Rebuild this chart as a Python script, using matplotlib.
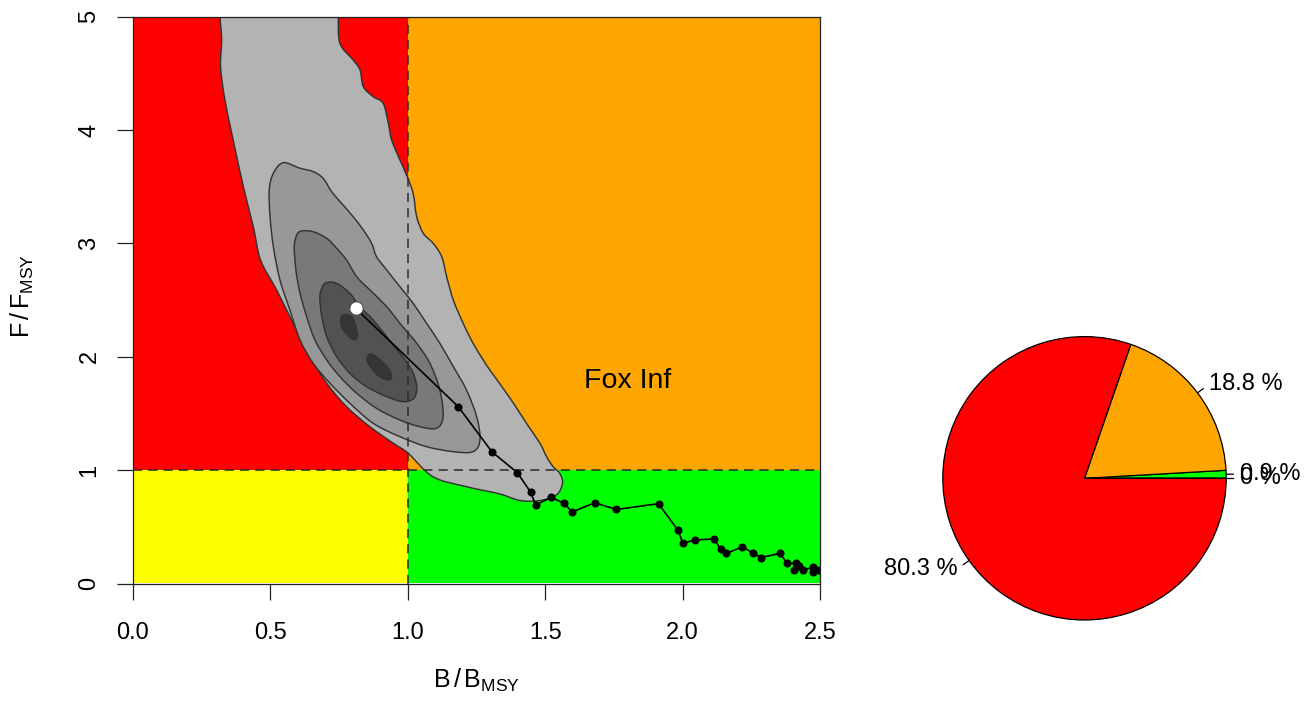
import matplotlib
matplotlib.use("Agg")
import matplotlib.pyplot as plt
from matplotlib.path import Path
from matplotlib.patches import PathPatch
import numpy as np

plt.rcParams['font.family'] = ['Liberation Sans', 'DejaVu Sans']
plt.rcParams['mathtext.fontset'] = 'custom'
plt.rcParams['mathtext.rm'] = 'Liberation Sans'
plt.rcParams['mathtext.it'] = 'Liberation Sans:italic'
plt.rcParams['mathtext.bf'] = 'Liberation Sans:bold'

# ---------------- data ----------------
x_ticks = [0.0, 0.5, 1.0, 1.5, 2.0, 2.5]
y_ticks = [0, 1, 2, 3, 4, 5]
x_tick_labels = ["0.0", "0.5", "1.0", "1.5", "2.0", "2.5"]
y_tick_labels = ["0", "1", "2", "3", "4", "5"]

# trajectory B/Bmsy, F/Fmsy (first year -> last year)
traj_B = [2.492, 2.474, 2.474, 2.438, 2.422, 2.404, 2.410, 2.379, 2.353, 2.284,
          2.257, 2.216, 2.157, 2.138, 2.114, 2.044, 2.001, 1.982, 1.912, 1.759,
          1.680, 1.598, 1.569, 1.521, 1.465, 1.448, 1.399, 1.306, 1.184, 0.811]
traj_F = [0.119, 0.099, 0.143, 0.119, 0.154, 0.116, 0.178, 0.178, 0.266, 0.228,
          0.269, 0.322, 0.265, 0.302, 0.393, 0.384, 0.355, 0.472, 0.704, 0.653,
          0.712, 0.631, 0.707, 0.760, 0.692, 0.803, 0.977, 1.163, 1.560, 2.428]

# density contour outlines (B, F), outermost to innermost
cont1_B = [0.318, 0.318, 0.324, 0.320, 0.336, 0.366, 0.403, 0.439, 0.466, 0.524,
           0.584, 0.645, 0.706, 0.778, 0.863, 0.948, 1.002, 1.092, 1.214, 1.335,
           1.408, 1.481, 1.541, 1.563, 1.553, 1.529, 1.505, 1.481, 1.432, 1.372,
           1.299, 1.275, 1.238, 1.202, 1.166, 1.142, 1.124, 1.093, 1.057, 1.033,
           1.020, 0.996, 0.972, 0.942, 0.930, 0.911, 0.875, 0.839, 0.827, 0.802,
           0.754, 0.748, 0.747]
cont1_F = [5.10, 5.00, 4.795, 4.559, 4.265, 3.912, 3.500, 3.148, 2.850, 2.589,
           2.295, 2.001, 1.766, 1.560, 1.383, 1.237, 1.149, 0.942, 0.854, 0.790,
           0.732, 0.732, 0.781, 0.884, 0.972, 1.030, 1.119, 1.237, 1.413, 1.636,
           1.883, 1.972, 2.119, 2.295, 2.501, 2.706, 2.883, 3.001, 3.089, 3.236,
           3.442, 3.604, 3.736, 3.912, 4.060, 4.236, 4.294, 4.383, 4.530, 4.618,
           4.765, 5.000, 5.10]

cont2_B = [0.548, 0.609, 0.657, 0.693, 0.724, 0.760, 0.802, 0.839, 0.869, 0.887,
           0.924, 0.972, 1.020, 1.069, 1.117, 1.166, 1.214, 1.251, 1.263, 1.238,
           1.166, 1.069, 0.972, 0.875, 0.790, 0.718, 0.657, 0.609, 0.572, 0.536,
           0.512, 0.500, 0.497, 0.512]
cont2_F = [3.712, 3.663, 3.633, 3.574, 3.456, 3.354, 3.236, 3.118, 3.001, 2.883,
           2.766, 2.618, 2.472, 2.295, 2.119, 1.913, 1.707, 1.471, 1.266, 1.163,
           1.163, 1.207, 1.295, 1.413, 1.590, 1.766, 1.942, 2.148, 2.413, 2.677,
           2.971, 3.236, 3.471, 3.619]

cont3_B = [0.615, 0.657, 0.706, 0.742, 0.778, 0.815, 0.863, 0.924, 0.972, 1.033,
           1.081, 1.117, 1.129, 1.105, 1.045, 0.972, 0.887, 0.815, 0.754, 0.706,
           0.663, 0.633, 0.609, 0.594, 0.588, 0.597]
cont3_F = [3.110, 3.103, 3.045, 2.957, 2.854, 2.706, 2.589, 2.442, 2.295, 2.119,
           1.942, 1.707, 1.471, 1.369, 1.383, 1.442, 1.545, 1.678, 1.824, 1.972,
           2.148, 2.354, 2.560, 2.766, 2.971, 3.074]

cont4_B = [0.706, 0.742, 0.790, 0.827, 0.875, 0.924, 0.972, 1.015, 1.033, 1.023,
           0.984, 0.924, 0.851, 0.790, 0.742, 0.706, 0.688, 0.681, 0.691]
cont4_F = [2.654, 2.648, 2.560, 2.442, 2.324, 2.177, 2.031, 1.883, 1.736, 1.634,
           1.604, 1.648, 1.736, 1.854, 2.001, 2.177, 2.354, 2.530, 2.618]

cont5a_B = [0.766, 0.797, 0.812, 0.817, 0.802, 0.781, 0.760, 0.757]
cont5a_F = [2.369, 2.354, 2.265, 2.177, 2.154, 2.192, 2.265, 2.339]
cont5b_B = [0.863, 0.893, 0.930, 0.942, 0.930, 0.899, 0.869, 0.853]
cont5b_F = [2.025, 1.987, 1.898, 1.824, 1.795, 1.824, 1.898, 1.972]

# pie: share of posterior in each quadrant
pie_values = [0.9, 18.8, 80.3, 0.0]
pie_colors = ["#00FF00", "#FFA500", "#FF0000", "#FFFF00"]


def smooth_closed_path(bx, fy):
    """Closed Catmull-Rom outline through the given vertices, as cubic Bezier path."""
    p = np.column_stack([bx, fy])
    n = len(p)
    verts = [p[0]]
    codes = [Path.MOVETO]
    for i in range(n):
        p0, p1, p2, p3 = p[i - 1], p[i], p[(i + 1) % n], p[(i + 2) % n]
        c1 = p1 + (p2 - p0) / 6.0
        c2 = p2 - (p3 - p1) / 6.0
        verts += [c1, c2, p2]
        codes += [Path.CURVE4, Path.CURVE4, Path.CURVE4]
    verts.append(p[0])
    codes.append(Path.CLOSEPOLY)
    return Path(np.array(verts), codes)


# ---------------- figure ----------------
W, H = 1309, 702
fig = plt.figure(figsize=(W / 100, H / 100), dpi=100)

x0, x1 = 132.5, 820.3
yb, yt = 583.5, 16.7
ax = fig.add_axes([x0 / W, (H - yb) / H, (x1 - x0) / W, (yb - yt) / H])
ax.set_xlim(0, 2.5)
ax.set_ylim(0, 5)

# quadrants
ax.fill_between([0, 1], 1, 5, color="#FF0000", lw=0, zorder=1)
ax.fill_between([1, 2.5], 1, 5, color="#FFA500", lw=0, zorder=1)
ax.fill_between([0, 1], 0, 1, color="#FFFF00", lw=0, zorder=1)
ax.fill_between([1, 2.5], 0, 1, color="#00FF00", lw=0, zorder=1)

edge = "#333333"
for bb, ff, col in [(cont1_B, cont1_F, "#B3B3B3"),
                    (cont2_B, cont2_F, "#989898"),
                    (cont3_B, cont3_F, "#797979"),
                    (cont4_B, cont4_F, "#525252"),
                    (cont5a_B, cont5a_F, "#363636"),
                    (cont5b_B, cont5b_F, "#363636")]:
    ax.add_patch(PathPatch(smooth_closed_path(bb, ff), facecolor=col, edgecolor=edge,
                           lw=1.05, joinstyle="round", zorder=2))

# reference lines
ax.axvline(1, color="#2a2a2a", lw=1.1, ls=(0, (6, 4)), zorder=3)
ax.axhline(1, color="#2a2a2a", lw=1.1, ls=(0, (6, 4)), zorder=3)

# trajectory
ax.plot(traj_B, traj_F, color="black", lw=1.2, zorder=4)
ax.plot(traj_B[:-1], traj_F[:-1], "o", color="black", ms=4.8, zorder=5)
ax.plot(traj_B[-1:], traj_F[-1:], "o", mfc="white", mec="#444444", mew=0.6, ms=9.5, zorder=6)

ax.text(1.80, 1.786, "Fox Inf", fontsize=20.5, ha="center", va="center", zorder=7)

ax.set_xticks(x_ticks)
ax.set_xticklabels(x_tick_labels)
ax.set_yticks(y_ticks)
ax.set_yticklabels(y_tick_labels, rotation=90, va="center")
ax.tick_params(axis="both", direction="out", length=11.5, width=0.9, colors="#222222",
               labelcolor="black", labelsize=17)
ax.tick_params(axis="x", pad=16)
ax.tick_params(axis="y", pad=11.5)
for s in ax.spines.values():
    s.set_linewidth(0.9)
    s.set_color("#222222")
    s.set_zorder(8)

fig.text(476 / W, 1 - 688 / H, r"$\mathrm{B\,/\,B_{MSY}}$", fontsize=18,
         ha="center", va="baseline")
fig.text(22.5 / W, 1 - 296 / H, r"$\mathrm{F\,/\,F_{MSY}}$", fontsize=18,
         ha="center", va="center", rotation=90)

# ---------------- pie ----------------
cx, cy, r = 1084.5, 478.3, 141.7
half = 1.1 * r
pax = fig.add_axes([(cx - half) / W, (H - cy - half) / H, 2 * half / W, 2 * half / H])
labels = [f"{v:g} %" for v in pie_values]
wedges, texts = pax.pie(pie_values, colors=pie_colors, startangle=0, counterclock=True,
                        labels=labels, labeldistance=1.1,
                        wedgeprops=dict(edgecolor="black", linewidth=0.9),
                        textprops=dict(fontsize=17))
pax.set_xlim(-1.1, 1.1)
pax.set_ylim(-1.1, 1.1)
pax.set_aspect("equal")
pax.axis("off")
for w in wedges:
    mid = np.deg2rad((w.theta1 + w.theta2) / 2)
    pax.plot([np.cos(mid), 1.05 * np.cos(mid)], [np.sin(mid), 1.05 * np.sin(mid)],
             color="black", lw=0.9, clip_on=False)

fig.savefig("out.png", dpi=100)
